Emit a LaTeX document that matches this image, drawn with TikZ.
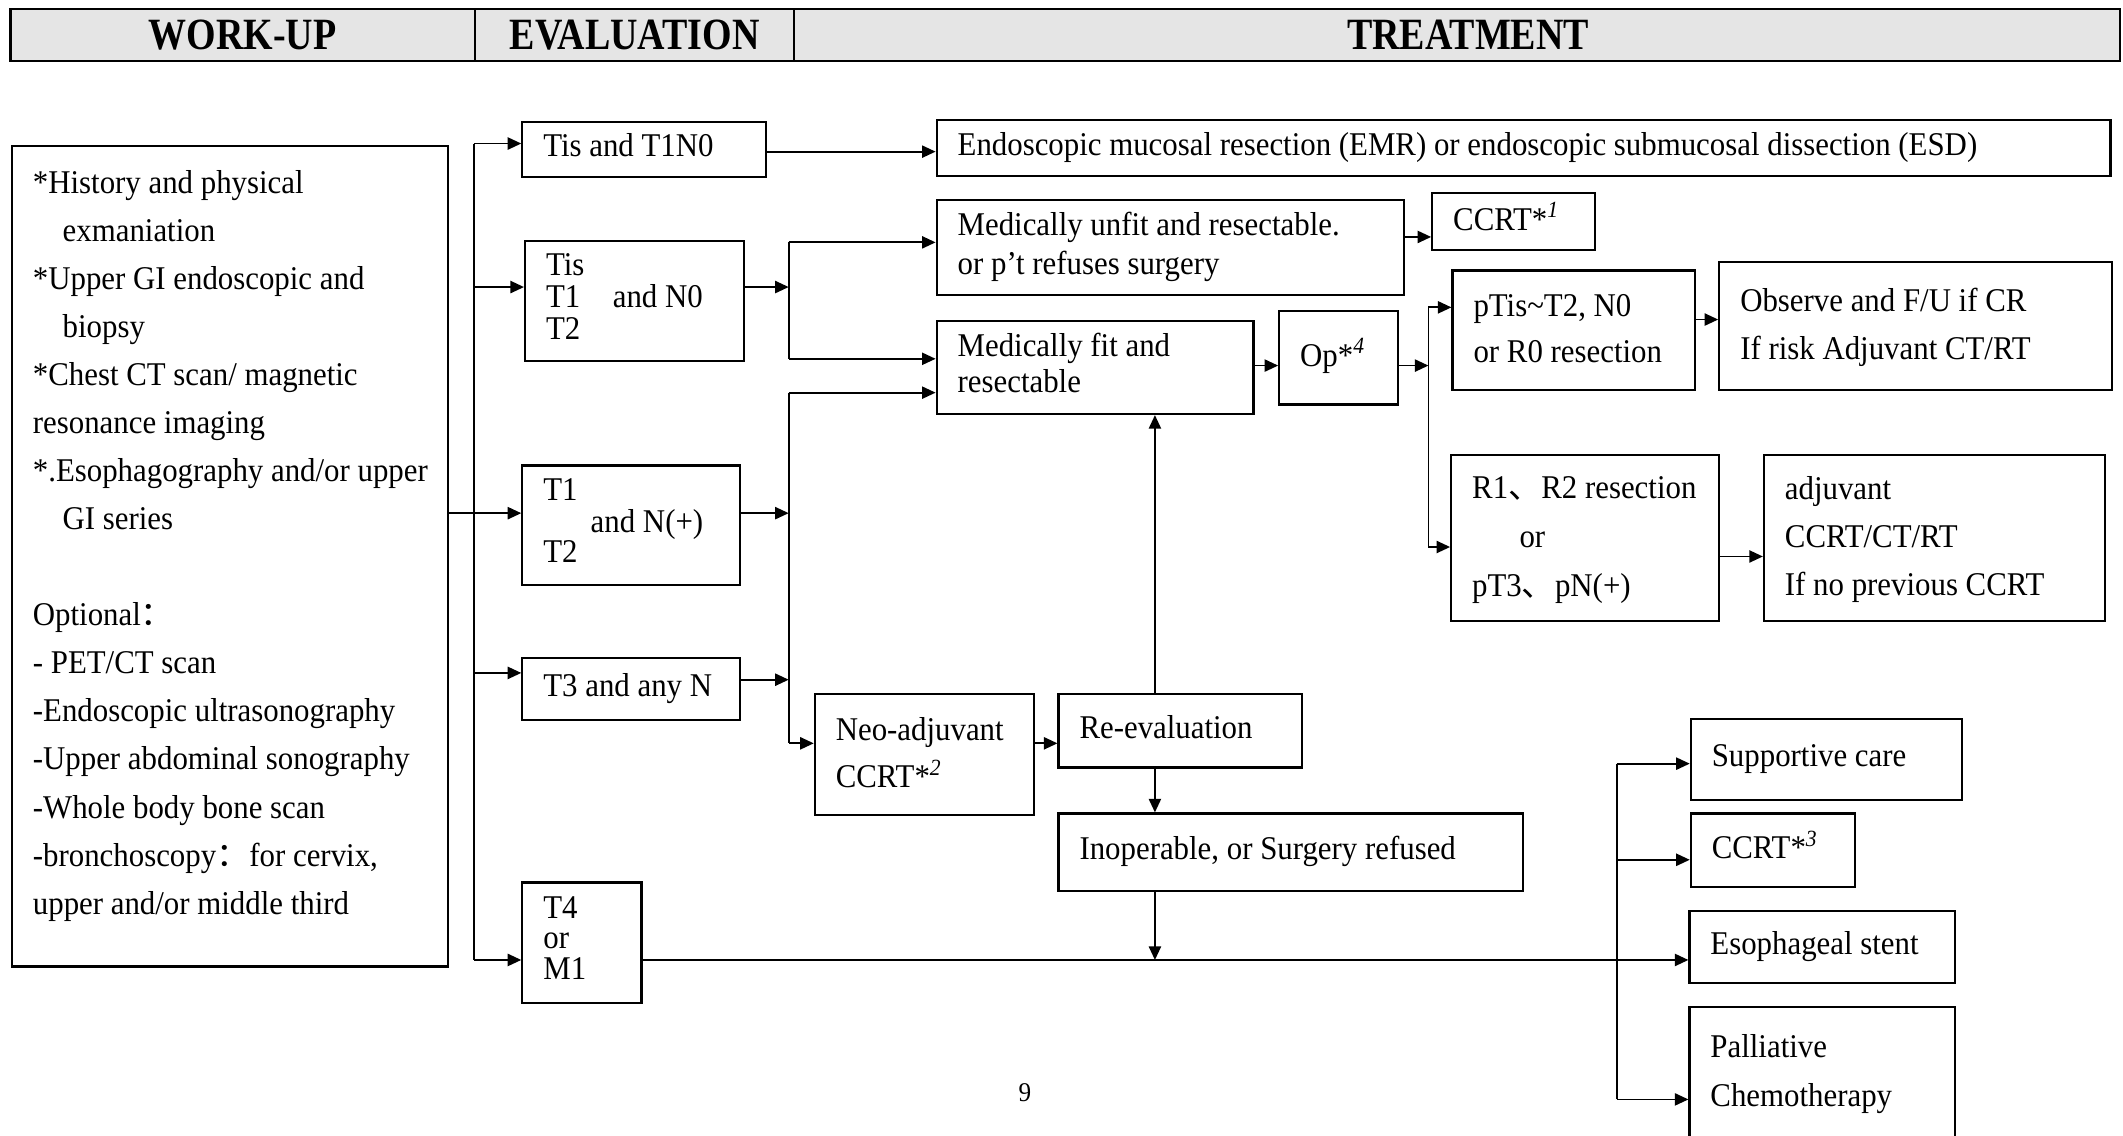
\documentclass[tikz,border=0pt]{standalone}
\usepackage{fontspec}
\setmainfont{Liberation Serif}[FakeStretch=0.93]
\newfontfamily\hdfont{Liberation Serif}[FakeStretch=0.85]
\newfontfamily\cjk{Noto Sans CJK SC}
\usetikzlibrary{arrows.meta,calc}
\newcommand\fs[1]{\fontsize{24.5}{#1}\selectfont}
\newcommand\mkbox[7]{%
  \pgfmathsetlengthmacro\bw{(#4-#2)*1pt-31pt}%
  \pgfmathsetlengthmacro\bh{(#5-#3)*1pt}%
  \node[box,minimum height=\bh,anchor=north west,#6] (#1) at (#2,#3)
    {\makebox[\bw][l]{\begin{tabular}{@{}l@{}}#7\end{tabular}}};}
\begin{document}
\begin{tikzpicture}[x=1pt,y=-1pt,
  box/.style={draw,line width=1.6pt,inner xsep=15.5pt,inner ysep=0pt,font=\fs{27}},
  hd/.style={draw,line width=1.5pt,fill=black!10,inner sep=0pt,anchor=north west,font=\hdfont\bfseries\fontsize{33}{33}\selectfont},
  con/.style={line width=1.3pt},
  arr/.style={con,-{Triangle[length=10pt,width=9pt]}}]
\useasboundingbox (0,0) rectangle (1568,839);
% header
\node[hd,minimum width=343pt,minimum height=38pt] (H1) at (7,6) {WORK-UP};
\node[hd,minimum width=236pt,minimum height=38pt] (H2) at (350,6) {EVALUATION};
\node[hd,minimum width=979pt,minimum height=38pt] (H3) at (586,6) {\hspace*{16pt}TREATMENT};
% work-up
\mkbox{L}{8}{107}{330}{713}{font=\fs{35.5}}{{}*History and physical\\
{}\hspace*{22pt}exmaniation\\
{}*Upper GI endoscopic and\\
{}\hspace*{22pt}biopsy\\
{}*Chest CT scan/ magnetic\\
{}resonance imaging\\
{}*.Esophagography and/or upper\\
{}\hspace*{22pt}GI series\\[35.5pt]
{}Optional{\cjk ：}\\
{}- PET/CT scan\\
{}-Endoscopic ultrasonography\\
{}-Upper abdominal sonography\\
{}-Whole body bone scan\\
{}-bronchoscopy{\cjk ：}for cervix,\\
{}upper and/or middle third\\[-17.5pt]{}}
% evaluation
\mkbox{B1}{385}{89}{565}{130}{}{Tis and T1N0}
\mkbox{B2}{387}{177}{549}{266}{font=\fs{23}}{Tis\\T1\hspace{24pt}and N0\\T2}
\mkbox{B3}{385}{343}{546}{431}{font=\fs{21}}{T1\\\hspace*{35pt}and N(+)\\T2}
\mkbox{B4}{385}{485}{546}{531}{}{T3 and any N}
\mkbox{B5}{385}{651}{473}{740}{font=\fs{22}}{T4\\or\\M1}
% treatment
\mkbox{EMR}{691}{88}{1558}{129}{}{Endoscopic mucosal resection (EMR) or endoscopic submucosal dissection (ESD)}
\mkbox{Unfit}{691}{147}{1036}{217}{font=\fs{29}}{Medically unfit and resectable.\\or p’t refuses surgery}
\mkbox{CC1}{1057}{142}{1177}{184}{}{CCRT*\textsuperscript{\itshape 1}}
\mkbox{Fit}{691}{236}{925}{305}{}{Medically fit and\\resectable}
\mkbox{Op}{944}{229}{1032}{298}{}{Op*\textsuperscript{\itshape 4}}
\mkbox{pTis}{1072}{199}{1251}{287}{font=\fs{34}}{pTis\textasciitilde T2, N0\\or R0 resection}
\mkbox{Obs}{1269}{193}{1559}{287}{font=\fs{35}}{Observe and F/U if CR\\If risk Adjuvant CT/RT}
\mkbox{R1}{1071}{335}{1269}{458}{font=\fs{36}}{R1{\cjk 、}R2 resection\\\hspace*{35pt}or\\pT3{\cjk 、}pN(+)}
\mkbox{Adj}{1302}{335}{1554}{458}{font=\fs{35.5}}{adjuvant\\CCRT/CT/RT\\If no previous CCRT}
\mkbox{Neo}{601}{512}{763}{601}{font=\fs{35}}{Neo-adjuvant\\CCRT*\textsuperscript{\itshape 2}}
\mkbox{Reev}{781}{512}{961}{566}{}{Re-evaluation}
\mkbox{Inop}{781}{600}{1124}{657}{}{Inoperable, or Surgery refused}
\mkbox{Supp}{1248}{530}{1448}{590}{}{Supportive care}
\mkbox{CC3}{1248}{600}{1369}{654}{}{CCRT*\textsuperscript{\itshape 3}}
\mkbox{Sten}{1247}{672}{1443}{725}{}{Esophageal stent}
\mkbox{Pall}{1247}{743}{1443}{839}{font=\fs{36}}{Palliative\\Chemotherapy}
\node[font=\fontsize{20}{20}\selectfont] (pg) at (757,807) {9};
% helper coordinates
\coordinate (tx) at (350,0);
\coordinate (j1) at (582.5,0);
\coordinate (j2) at (1055,0);
\coordinate (j3) at (1194,0);
\coordinate (xr) at (853,0);
\coordinate (y1) at (0,106);
\coordinate (y1o) at (0,112);
\coordinate (y2) at (0,212);
\coordinate (y3) at (0,379);
\coordinate (y4) at (0,497);
\coordinate (y4o) at (0,502);
\coordinate (y5) at (0,709);
\coordinate (yU) at (0,179);
\coordinate (yF) at (0,265);
\coordinate (yF2) at (0,290);
\coordinate (yN) at (0,549);
\coordinate (yC1) at (0,175);
\coordinate (yO) at (0,270);
\coordinate (yP) at (0,227);
\coordinate (yP2) at (0,236);
\coordinate (yR) at (0,404);
\coordinate (yR2) at (0,411);
\coordinate (yS) at (0,564);
\coordinate (yC3) at (0,635);
\coordinate (yPa) at (0,812);
% work-up to evaluation
\draw[con] (tx |- y1) -- (tx |- y5);
\draw[arr] (tx |- y1) -- (B1.west |- y1);
\draw[arr] (tx |- y2) -- (B2.west |- y2);
\draw[arr] (L.east |- y3) -- (B3.west |- y3);
\draw[arr] (tx |- y4) -- (B4.west |- y4);
\draw[arr] (tx |- y5) -- (B5.west |- y5);
% evaluation to treatment
\draw[arr] (B1.east |- y1o) -- (EMR.west |- y1o);
\draw[arr] (B2.east |- y2) -- (j1 |- y2);
\draw[con] (j1 |- yU) -- (j1 |- yF);
\draw[arr] (j1 |- yU) -- (Unfit.west |- yU);
\draw[arr] (j1 |- yF) -- (Fit.west |- yF);
\draw[arr] (B3.east |- y3) -- (j1 |- y3);
\draw[arr] (B4.east |- y4o) -- (j1 |- y4o);
\draw[con] (j1 |- yF2) -- (j1 |- yN);
\draw[arr] (j1 |- yF2) -- (Fit.west |- yF2);
\draw[arr] (j1 |- yN) -- (Neo.west |- yN);
\draw[arr] (Neo.east |- yN) -- (Reev.west |- yN);
\draw[arr] (Reev.north -| xr) -- (Fit.south -| xr);
\draw[arr] (Reev.south -| xr) -- (Inop.north -| xr);
\draw[arr] (Inop.south -| xr) -- (xr |- y5);
\draw[arr] (B5.east |- y5) -- (Sten.west |- y5);
\draw[arr] (Unfit.east |- yC1) -- (CC1.west |- yC1);
\draw[arr] (Fit.east |- yO) -- (Op.west |- yO);
\draw[arr] (Op.east |- yO) -- (j2 |- yO);
\draw[con] (j2 |- yP) -- (j2 |- yR);
\draw[arr] (j2 |- yP) -- (pTis.west |- yP);
\draw[arr] (j2 |- yR) -- (R1.west |- yR);
\draw[arr] (pTis.east |- yP2) -- (Obs.west |- yP2);
\draw[arr] (R1.east |- yR2) -- (Adj.west |- yR2);
\draw[con] (j3 |- yS) -- (j3 |- yPa);
\draw[arr] (j3 |- yS) -- (Supp.west |- yS);
\draw[arr] (j3 |- yC3) -- (CC3.west |- yC3);
\draw[arr] (j3 |- yPa) -- (Pall.west |- yPa);
\end{tikzpicture}
\end{document}
